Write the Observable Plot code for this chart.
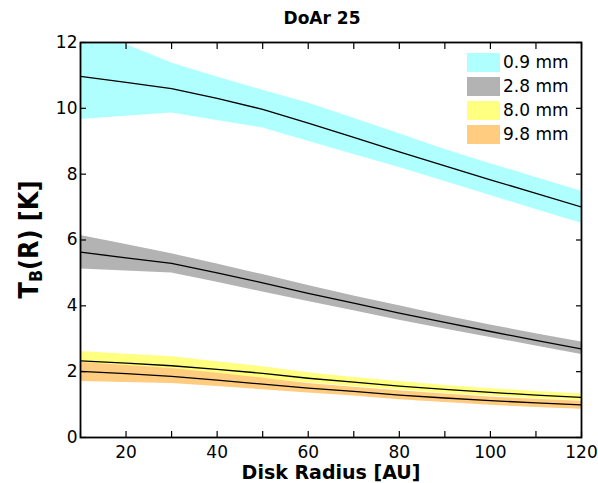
<!DOCTYPE html>
<html><head><meta charset="utf-8">
<script src="https://cdn.jsdelivr.net/npm/d3@7"></script>
<script src="https://cdn.jsdelivr.net/npm/@observablehq/plot@0.6"></script>
<style>
body{margin:0;background:#fff;}
#wrap{position:relative;width:598px;height:483px;font-family:"DejaVu Sans",sans-serif;}
#legend{position:absolute;left:467px;top:50px;}
.row{display:flex;align-items:center;height:24px;}
.sw{width:33px;height:19px;margin-right:3px;}
.lab{font-size:17px;color:#000;white-space:nowrap;}
</style></head><body><div id="wrap"><div id="legend"></div></div>
<script>
const title = "DoAr 25";
const xLabel = "Disk Radius [AU]";
const radius = [10,20,30,40,50,60,70,80,90,100,110,120];
const bandNames = ["0.9 mm","2.8 mm","8.0 mm","9.8 mm"];
const bandColors = ["#b0ffff","#b3b3b3","#ffff80","#ffcc80"];

const mid09 = [10.97,10.79,10.6,10.3,9.97,9.55,9.12,8.68,8.25,7.83,7.42,7.0];
const hi09  = [12.5,11.94,11.38,10.95,10.55,10.16,9.7,9.23,8.75,8.32,7.9,7.48];
const lo09  = [9.66,9.76,9.86,9.63,9.4,9.0,8.6,8.2,7.78,7.35,6.93,6.51];

const mid28 = [5.63,5.46,5.29,5.0,4.7,4.38,4.08,3.78,3.5,3.22,2.95,2.69];
const hi28  = [6.14,5.86,5.58,5.27,4.95,4.62,4.3,4.0,3.7,3.42,3.15,2.9];
const lo28  = [5.12,5.06,5.0,4.72,4.42,4.13,3.85,3.56,3.3,3.04,2.78,2.52];

const mid80 = [2.33,2.26,2.18,2.07,1.95,1.8,1.68,1.56,1.46,1.37,1.29,1.22];
const hi80  = [2.61,2.53,2.45,2.3,2.15,1.97,1.82,1.7,1.58,1.48,1.4,1.32];
const lo80  = [2.05,1.99,1.92,1.85,1.78,1.66,1.55,1.44,1.34,1.26,1.18,1.12];

const mid98 = [2.01,1.94,1.86,1.74,1.62,1.5,1.4,1.29,1.2,1.12,1.05,0.99];
const hi98  = [2.28,2.19,2.1,1.95,1.8,1.64,1.53,1.42,1.32,1.23,1.16,1.1];
const lo98  = [1.70,1.67,1.64,1.55,1.45,1.35,1.26,1.15,1.06,0.98,0.91,0.86];

const xTicks = [10,20,30,40,50,60,70,80,90,100,110,120];
const xTickLabels = [20,40,60,80,100,120];
const yTicks = [0,2,4,6,8,10,12];

const series = [
  {name: bandNames[0], mid: mid09, hi: hi09, lo: lo09},
  {name: bandNames[1], mid: mid28, hi: hi28, lo: lo28},
  {name: bandNames[2], mid: mid80, hi: hi80, lo: lo80},
  {name: bandNames[3], mid: mid98, hi: hi98, lo: lo98}
];
const rows = series.flatMap(s => radius.map((r, i) => ({band: s.name, r, mid: s.mid[i], hi: s.hi[i], lo: s.lo[i]})));

const chart = Plot.plot({
  width: 598, height: 483,
  marginTop: 42, marginLeft: 80, marginRight: 17, marginBottom: 46,
  style: {fontFamily: "DejaVu Sans", fontSize: "17px", color: "#000", background: "#fff"},
  x: {domain: [10, 120], label: null},
  y: {domain: [0, 12], label: null},
  color: {domain: bandNames, range: bandColors},
  marks: [
    Plot.areaY(rows, {x: "r", y1: "lo", y2: "hi", fill: "band", z: "band", fillOpacity: 1, clip: true}),
    Plot.lineY(rows, {x: "r", y: "mid", z: "band", stroke: "black", strokeWidth: 1.3, clip: true}),
    Plot.axisX({ticks: xTicks, tickSize: -6, text: null, label: null, strokeWidth: 1.2}),
    Plot.axisX({anchor: "top", ticks: xTicks, tickSize: -6, text: null, label: null, strokeWidth: 1.2}),
    Plot.axisX({ticks: xTickLabels, tickSize: 0, tickPadding: 8, label: null, fontSize: 17}),
    Plot.axisY({ticks: yTicks, tickSize: -6, text: null, label: null, strokeWidth: 1.2}),
    Plot.axisY({anchor: "right", ticks: yTicks, tickSize: -6, text: null, label: null, strokeWidth: 1.2}),
    Plot.axisY({ticks: yTicks, tickSize: 0, tickPadding: 3, label: null, fontSize: 17}),
    Plot.frame({stroke: "black", strokeWidth: 1.8}),
    Plot.text([title], {text: d => d, frameAnchor: "top", dx: -9, dy: -24, lineAnchor: "middle", fontWeight: "bold", fontSize: 17}),
    Plot.text([xLabel], {text: d => d, frameAnchor: "bottom", dy: 35, lineAnchor: "middle", fontWeight: "bold", fontSize: 19})
  ]
});
document.getElementById("wrap").prepend(chart);

// y-axis label with subscript
const svg = d3.select(chart);
const yl = svg.append("text")
  .attr("transform", "translate(29,239.5) rotate(-90)")
  .attr("text-anchor", "middle")
  .attr("dominant-baseline", "central")
  .attr("font-family", "DejaVu Sans")
  .attr("font-weight", "bold")
  .attr("font-size", 26)
  .attr("textLength", 118)
  .attr("lengthAdjust", "spacingAndGlyphs")
  .attr("fill", "#000");
yl.append("tspan").text("T");
yl.append("tspan").attr("font-size", 17).attr("dy", 7).text("B");
yl.append("tspan").attr("dy", -7).text("(R) [K]");

// legend
const leg = d3.select("#legend");
bandNames.forEach((n, i) => {
  const row = leg.append("div").attr("class", "row");
  row.append("div").attr("class", "sw").style("background", bandColors[i]);
  row.append("div").attr("class", "lab").text(n);
});
</script></body></html>
